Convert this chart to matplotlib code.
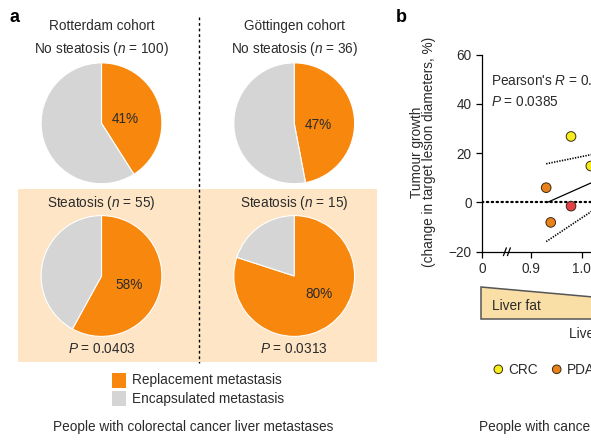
import matplotlib
matplotlib.use("Agg")
import matplotlib.pyplot as plt
from matplotlib.patches import Rectangle, Polygon, Circle
from matplotlib.lines import Line2D

plt.rcParams["font.family"] = ["Liberation Sans", "DejaVu Sans"]
plt.rcParams["mathtext.fontset"] = "custom"
plt.rcParams["mathtext.it"] = "Liberation Sans:italic"
plt.rcParams["mathtext.rm"] = "Liberation Sans"

# ---------------- data ----------------
cohorts = ["Rotterdam cohort", "Göttingen cohort"]
n_no_steatosis = [100, 36]
n_steatosis = [55, 15]
replacement_no_steatosis = [41, 47]
replacement_steatosis = [58, 80]
p_values = ["0.0403", "0.0313"]

liver_ratio = [0.979, 1.018, 0.930, 0.979, 0.939]
tumour_growth = [26.8, 14.8, 6.0, -1.5, -8.1]
cancer_type = ["CRC", "CRC", "PDAC", "Other", "PDAC"]
legend_types = ["CRC", "PDAC"]

fit_x = [0.932, 1.04]
fit_y = [0.0, 9.9]
ci_x = [0.930, 1.04]
ci_upper = [15.7, 20.3]
ci_lower = [-15.9, -0.8]

x_ticks = [0.9, 1.0, 1.1, 1.2]
y_ticks = [-20, 0, 20, 40, 60]

# ---------------- style ----------------
ORANGE = "#f8870e"
GRAY = "#d5d5d5"
BEIGE = "#fde5c6"
TXT = "#2b2b2b"
type_colors = {"CRC": "#f6ee1c", "PDAC": "#e8811c", "Other": "#e5404a"}
FS = 9.8

W, H = 591, 443
fig = plt.figure(figsize=(W / 100, H / 100), dpi=100)

# overlay axes in pixel coordinates
ov = fig.add_axes([0, 0, 1, 1], zorder=0)
ov.set_xlim(0, W)
ov.set_ylim(H, 0)
ov.axis("off")


def T(x, y, s, **kw):
    kw.setdefault("fontsize", FS)
    kw.setdefault("color", TXT)
    kw.setdefault("ha", "center")
    kw.setdefault("va", "center")
    return ov.text(x, y, s, **kw)


# ---------------- panel a ----------------
T(14, 17, "a", fontsize=13, fontweight="bold", color="black")
ov.add_patch(Rectangle((18, 189), 359, 173, facecolor=BEIGE, edgecolor="none"))
ov.plot([198.5, 198.5], [17, 363], color="black", lw=1, ls=(0, (2, 2)))

col_x = [101.5, 294.2]
R = 61
label_off = [[(0.39, 0.07), (0.45, -0.15)], [(0.40, -0.02), (0.41, -0.30)]]

for i, name in enumerate(cohorts):
    cx = col_x[i]
    T(cx, 26, name)
    T(cx, 49.3, "No steatosis ($n$ = %d)" % n_no_steatosis[i])
    T(cx, 202.7, "Steatosis ($n$ = %d)" % n_steatosis[i])
    T(cx, 349.3, "$P$ = %s" % p_values[i])
    for j, (cy, pct) in enumerate([(123.3, replacement_no_steatosis[i]),
                                  (276, replacement_steatosis[i])]):
        pax = fig.add_axes([(cx - R) / W, (H - cy - R) / H, 2 * R / W, 2 * R / H], zorder=1)
        pax.pie([pct, 100 - pct], colors=[ORANGE, GRAY], startangle=90,
                counterclock=False, radius=1,
                wedgeprops=dict(edgecolor="white", linewidth=0.8))
        pax.set_xlim(-1.01, 1.01)
        pax.set_ylim(-1.01, 1.01)
        pax.set_aspect("auto")
        pax.patch.set_visible(False)
        dx, dy = label_off[i][j]
        pax.text(dx, dy, "%d%%" % pct, ha="center", va="center", fontsize=FS, color=TXT)

# legend a
ov.add_patch(Rectangle((111.7, 373), 14.5, 15, facecolor=ORANGE, edgecolor="none"))
ov.add_patch(Rectangle((111.7, 391), 14.5, 15, facecolor=GRAY, edgecolor="none"))
T(132.3, 380, "Replacement metastasis", ha="left")
T(132.3, 398.5, "Encapsulated metastasis", ha="left")
T(193.5, 426.5, "People with colorectal cancer liver metastases")

# ---------------- panel b ----------------
T(401.7, 17, "b", fontsize=13, fontweight="bold", color="black")

x0_fake = 0.8034
px_per_unit = 507.0
x_right = 1.3
ax_left = 482.0
ax_w = (x_right - x0_fake) * px_per_unit
y_top, y_bot = 54.7, 251.7
ax = fig.add_axes([ax_left / W, (H - y_bot) / H, ax_w / W, (y_bot - y_top) / H], zorder=2)
ax.patch.set_visible(False)
ax.set_xlim(x0_fake, x_right)
ax.set_ylim(-20, 60)
for s in ["top", "right"]:
    ax.spines[s].set_visible(False)
for s in ["left", "bottom"]:
    ax.spines[s].set_linewidth(0.9)
ax.set_xticks([x0_fake] + x_ticks)
ax.set_xticklabels(["0"] + ["%.1f" % v for v in x_ticks])
ax.set_yticks(y_ticks)
ax.set_yticklabels([str(v).replace("-", "\u2212") for v in y_ticks])
ax.tick_params(labelsize=FS, length=4.5, width=0.9, colors="black", labelcolor=TXT, pad=3)

ax.axhline(0, color="black", lw=1.6, ls=(0, (0.6, 1.6)), dash_capstyle="round", zorder=1)
ax.plot(fit_x, fit_y, color="black", lw=0.9, zorder=2)
ax.plot(ci_x, ci_upper, color="black", lw=1.2, ls=(0, (0.8, 0.8)), zorder=2)
ax.plot(ci_x, ci_lower, color="black", lw=1.2, ls=(0, (0.8, 0.8)), zorder=2)
ax.scatter(liver_ratio, tumour_growth, s=48,
           c=[type_colors[t] for t in cancer_type],
           edgecolors="#3a2a10", linewidths=0.7, zorder=3, clip_on=False)

ax.text(0.821, 49.2, "Pearson's $R$ = 0.52", fontsize=FS, color=TXT, ha="left", va="center")
ax.text(0.821, 40.7, "$P$ = 0.0385", fontsize=FS, color=TXT, ha="left", va="center")

# axis break marks
for bx in [503.5, 507.5]:
    ax.add_line(Line2D([bx, bx + 2.8], [255.5, 248], transform=ov.transData,
                       color="black", lw=0.9, clip_on=False))

# y label
T(416.7, 152, "Tumour growth", rotation=90)
T(429.5, 152, "(change in target lesion diameters, %)", rotation=90)

# liver fat wedge
ov.add_patch(Polygon([(480.7, 286.7), (480.7, 319.3), (840, 319.3)],
                     closed=True, facecolor="#f9dfa5", edgecolor="#555555", lw=1.1))
T(492.5, 306.5, "Liver fat", ha="left")
T(569.3, 334, "Liver-to-spleen ratio", ha="left")

# legend b
leg_x = [498.3, 556.7]
for lx, t in zip(leg_x, legend_types):
    ov.add_patch(Circle((lx, 369.3), 4.3, facecolor=type_colors[t],
                        edgecolor="#3a2a10", lw=0.7))
    T(lx + 10, 369.5, t, ha="left")

T(479.3, 426.5, "People with cancer liver metastases", ha="left")

fig.savefig("out.png", dpi=100)
